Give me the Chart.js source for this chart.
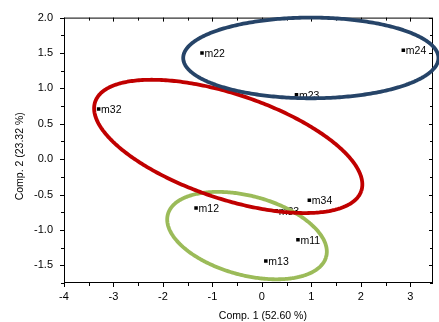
<!DOCTYPE html>
<html>
<head>
<meta charset="utf-8">
<script src="https://cdn.jsdelivr.net/npm/chart.js@4/dist/chart.umd.min.js"></script>
<style>
  html, body { margin: 0; padding: 0; background: #ffffff; }
  #wrap { width: 439px; height: 322px; position: relative; }
</style>
</head>
<body>
<div id="wrap"><canvas id="c" width="439" height="322"></canvas></div>
<script>
// ---- data ----
const xTickValues = [-4, -3, -2, -1, 0, 1, 2, 3];
const yTickValues = [-1.5, -1.0, -0.5, 0.0, 0.5, 1.0, 1.5, 2.0];
const xTitle = 'Comp. 1 (52.60 %)';
const yTitle = 'Comp. 2 (23.32 %)';

const pointLabels = ['m22', 'm24', 'm23', 'm32', 'm12', 'm34', 'm33', 'm11', 'm13'];
const pointX = [-1.21, 2.86, 0.70, -3.30, -1.33, 0.96, 0.29, 0.73, 0.08];
const pointY = [1.50, 1.54, 0.91, 0.71, -0.69, -0.58, -0.73, -1.14, -1.44];

// confidence ellipses: centre and two conjugate semi-axis vectors (data units)
const ellipseCenterX = [0.99, -0.68, -0.30];
const ellipseCenterY = [1.43, 0.18, -1.08];
const ellipseAxisA = [[2.58, 0.00], [2.69, -0.63], [1.60, -0.30]];
const ellipseAxisB = [[0.00, 0.57], [-0.34, -0.70], [-0.21, -0.54]];

// ---- build ----
const ellipseColors = ['#264468', '#C00000', '#9BBB59'];
function ellipsePoints(k) {
  const pts = [];
  const n = 180;
  for (let i = 0; i <= n; i++) {
    const t = 2 * Math.PI * i / n;
    pts.push({
      x: ellipseCenterX[k] + ellipseAxisA[k][0] * Math.cos(t) + ellipseAxisB[k][0] * Math.sin(t),
      y: ellipseCenterY[k] + ellipseAxisA[k][1] * Math.cos(t) + ellipseAxisB[k][1] * Math.sin(t)
    });
  }
  return pts;
}

const datasets = ellipseCenterX.map((_, k) => ({
  type: 'scatter',
  data: ellipsePoints(k),
  showLine: true,
  borderColor: ellipseColors[k],
  borderWidth: 3.8,
  pointRadius: 0,
  pointHoverRadius: 0,
  tension: 0.01,
  borderJoinStyle: 'round',
  fill: false,
  clip: false,
  order: 0
}));
datasets.push({
  type: 'scatter',
  data: pointX.map((x, i) => ({ x: x, y: pointY[i] })),
  pointStyle: 'rect',
  pointRadius: 2.5,
  backgroundColor: '#000000',
  borderColor: '#000000',
  borderWidth: 0,
  order: 1
});
const POINTS_INDEX = datasets.length - 1;

const FONT = '"Liberation Sans", Arial, sans-serif';

const framePlugin = {
  id: 'frame',
  beforeDatasetsDraw(chart) {
    const { ctx, chartArea: a, scales } = chart;
    const xs = scales.x, ys = scales.y;
    ctx.save();
    ctx.strokeStyle = '#000000';
    ctx.lineWidth = 1;
    ctx.strokeRect(a.left + 0.5, a.top + 0.5, a.right - a.left - 1, a.bottom - a.top - 1);
    ctx.beginPath();
    // x ticks: major at integers, minor at halves
    for (let v = -4; v <= 3.5; v += 0.5) {
      const px = Math.round(xs.getPixelForValue(v)) + 0.5;
      if (px < a.left - 1 || px > a.right + 1) continue;
      const major = Math.abs(v - Math.round(v)) < 1e-6;
      const len = major ? 4 : 3;
      ctx.moveTo(px, a.bottom); ctx.lineTo(px, a.bottom + len);
      ctx.moveTo(px, a.top); ctx.lineTo(px, a.top + len);
    }
    // y ticks: major at 0.5, minor at 0.25
    for (let v = -1.75; v <= 2.0001; v += 0.25) {
      const py = Math.round(ys.getPixelForValue(v)) + 0.5;
      const major = Math.abs(v * 2 - Math.round(v * 2)) < 1e-6;
      const len = major ? 4 : 3;
      ctx.moveTo(a.left, py); ctx.lineTo(a.left - len, py);
      ctx.moveTo(a.right, py); ctx.lineTo(a.right - len, py);
    }
    ctx.stroke();

    // axis titles
    ctx.fillStyle = '#000000';
    ctx.font = '10.5px ' + FONT;
    ctx.textAlign = 'center';
    ctx.textBaseline = 'middle';
    ctx.fillText(xTitle, xs.getPixelForValue(0) + 1, 316);
    ctx.translate(20, (a.top + a.bottom) / 2 + 6);
    ctx.rotate(-Math.PI / 2);
    ctx.fillText(yTitle, 0, 0);
    ctx.restore();
  },
  afterDatasetDraw(chart, args) {
    if (args.index !== POINTS_INDEX) return;
    const { ctx, scales } = chart;
    ctx.save();
    ctx.fillStyle = '#000000';
    ctx.font = '10.5px ' + FONT;
    ctx.textAlign = 'left';
    ctx.textBaseline = 'middle';
    pointLabels.forEach((lab, i) => {
      const px = scales.x.getPixelForValue(pointX[i]);
      const py = scales.y.getPixelForValue(pointY[i]);
      ctx.fillText(lab, px + 2.5, py + 1);
    });
    ctx.restore();
  }
};

new Chart(document.getElementById('c'), {
  type: 'scatter',
  data: { datasets: datasets },
  options: {
    responsive: false,
    animation: false,
    devicePixelRatio: 1,
    layout: { padding: { left: 0, right: 6, top: 17, bottom: 0 } },
    plugins: { legend: { display: false }, tooltip: { enabled: false } },
    scales: {
      x: {
        type: 'linear',
        min: -4,
        max: 3.46,
        grid: { display: false, drawTicks: false, tickLength: 0 },
        border: { display: false },
        afterBuildTicks: s => { s.ticks = xTickValues.map(v => ({ value: v })); },
        afterFit: s => { s.height = 39; },
        ticks: {
          color: '#000000',
          padding: 7,
          font: { family: FONT, size: 11 },
          maxRotation: 0,
          autoSkip: false,
          callback: v => String(v)
        },
        title: { display: false }
      },
      y: {
        type: 'linear',
        min: -1.75,
        max: 2.0,
        grid: { display: false, drawTicks: false, tickLength: 0 },
        border: { display: false },
        afterBuildTicks: s => { s.ticks = yTickValues.map(v => ({ value: v })); },
        afterFit: s => { s.width = 64; },
        ticks: {
          color: '#000000',
          padding: 11,
          font: { family: FONT, size: 11 },
          autoSkip: false,
          callback: v => Number(v).toFixed(1)
        },
        title: { display: false }
      }
    }
  },
  plugins: [framePlugin]
});
</script>
</body>
</html>
